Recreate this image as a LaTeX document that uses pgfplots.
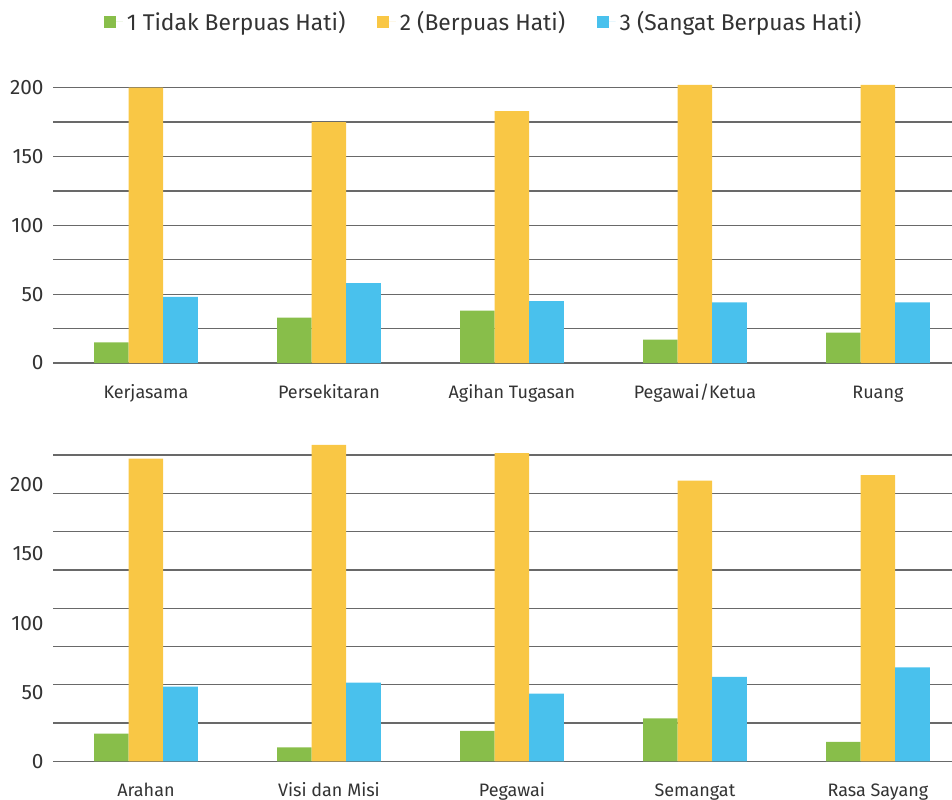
\documentclass[border=0pt]{standalone}
\usepackage{pgfplots}
\pgfplotsset{compat=1.18}
\usepackage{fontspec}
\setmainfont{Fira Sans}

\definecolor{cgreen}{RGB}{136,190,74}
\definecolor{cyellow}{RGB}{249,199,69}
\definecolor{cblue}{RGB}{73,193,237}
\definecolor{txt}{RGB}{51,51,51}
\definecolor{gridc}{RGB}{105,105,105}

\pgfplotsset{
  panel/.style={
    ybar,
    scale only axis,
    width=449.5pt,
    anchor=south west,
    xmin=-0.508, xmax=4.405,
    ymin=0,
    clip=false,
    bar width=0.189,
    axis line style={draw=none},
    xtick=data,
    major tick length=0pt,
    tick style={draw=none},
    extra y tick labels={},
    extra y tick style={grid=major},
    major grid style={gridc, line width=0.65pt},
    /pgf/number format/assume math mode=true,
    yticklabel style={font=\color{txt}\fontsize{10.4}{12}\selectfont, anchor=east, xshift=-1.2pt},
    xticklabel style={font=\color{txt}\fontsize{9}{11}\selectfont, anchor=base, yshift=-17.5pt},
  },
  sq/.style={legend image code/.code={\fill[##1] (0pt,-3pt) rectangle (6pt,3pt); \path (0pt,0pt) -- (9.2pt,0pt);}},
}

\begin{document}
\begin{tikzpicture}
% top panel
\begin{axis}[panel,
  at={(0pt,199.15pt)},
  height=137.65pt,
  ymax=200,
  ytick={0,50,...,200},
  extra y ticks={0,25,...,200},
  xticklabels={Kerjasama,Persekitaran,Agihan Tugasan,Pegawai/Ketua,Ruang},
  legend style={at={(axis description cs:0.4805,1.2387)}, anchor=center, draw=none, fill=none,
    legend columns=3, font=\color{txt}\fontsize{11.4}{13}\selectfont,
    /tikz/every even column/.append style={column sep=14pt}},
]
\addplot[fill=cgreen, draw=none, bar shift=-0.189, sq] coordinates {(0,15) (1,33) (2,38) (3,17) (4,22)};
\addplot[fill=cyellow, draw=none, bar shift=0, sq] coordinates {(0,200) (1,175) (2,183) (3,202) (4,202)};
\addplot[fill=cblue, draw=none, bar shift=0.189, sq] coordinates {(0,48) (1,58) (2,45) (3,44) (4,44)};
\legend{1 Tidak Berpuas Hati),2 (Berpuas Hati),3 (Sangat Berpuas Hati)}
\end{axis}
% bottom panel
\begin{axis}[panel,
  at={(0pt,0pt)},
  height=153.15pt,
  ymax=221.6,
  ytick={0,50,...,200},
  extra y ticks={0,27.7,55.4,83.1,110.8,138.5,166.2,193.9,221.6},
  xticklabels={Arahan,Visi dan Misi,Pegawai,Semangat,Rasa Sayang},
]
\addplot[fill=cgreen, draw=none, bar shift=-0.189] coordinates {(0,20) (1,10) (2,22) (3,31) (4,14)};
\addplot[fill=cyellow, draw=none, bar shift=0] coordinates {(0,219) (1,229) (2,223) (3,203) (4,207)};
\addplot[fill=cblue, draw=none, bar shift=0.189] coordinates {(0,54) (1,57) (2,49) (3,61) (4,68)};
\end{axis}
\pgfresetboundingbox
\path[use as bounding box] (-26.5pt,-18.85pt) rectangle (449.5pt,380.65pt);
\end{tikzpicture}
\end{document}
